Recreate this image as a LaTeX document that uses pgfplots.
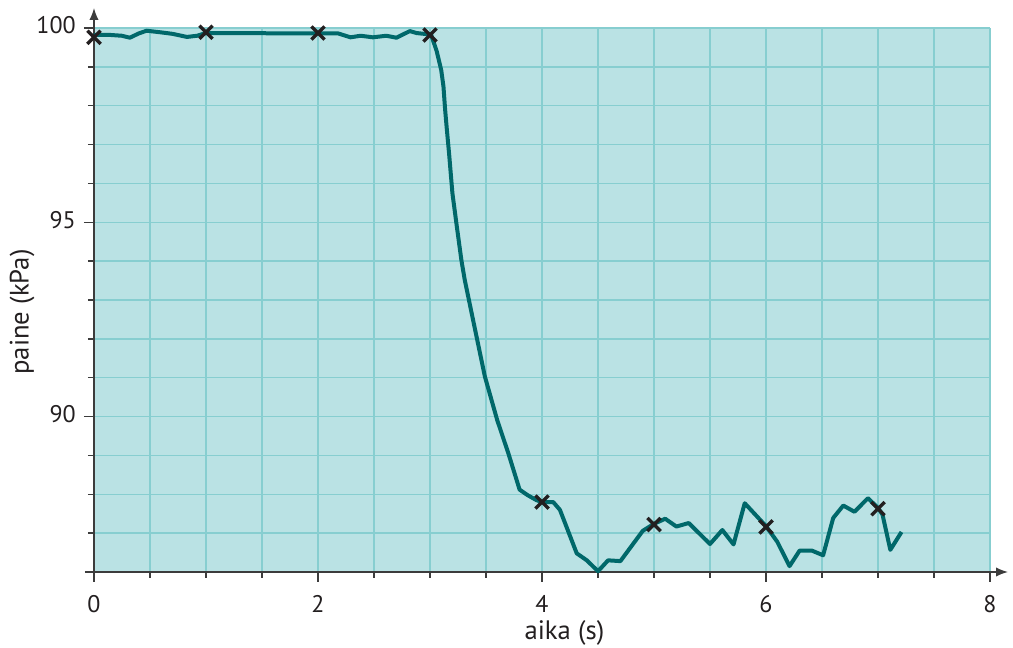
\documentclass[border=0pt]{standalone}
\usepackage{fontspec}
\setmainfont{PT Sans}
\usepackage{pgfplots}
\pgfplotsset{compat=1.18}
\usetikzlibrary{arrows.meta}
\definecolor{bgcol}{RGB}{186,226,228}
\definecolor{gridcol}{RGB}{135,206,208}
\definecolor{linecol}{RGB}{0,104,106}
\definecolor{axiscol}{RGB}{60,60,60}
\definecolor{textcol}{RGB}{35,31,32}
\begin{document}
\begin{tikzpicture}[font=\fontsize{18}{22}\selectfont]
\begin{axis}[name=ax, scale only axis, width=672pt, height=408pt,
  xmin=0, xmax=8, ymin=86, ymax=100,
  axis lines*=left,
  axis background/.style={fill=bgcol},
  axis line style={draw=axiscol, line width=1.1pt},
  x axis line style={-{Latex[length=9pt,width=7pt]}, shorten >=-13.5pt, shorten <=-6.75pt},
  y axis line style={-{Latex[length=9pt,width=7pt]}, shorten >=-15pt},
  xtick={0,2,4,6,8},
  minor xtick={0.5,1,1.5,2.5,3,3.5,4.5,5,5.5,6.5,7,7.5},
  ytick={90,95,100},
  minor ytick={87,88,89,91,92,93,94,96,97,98,99},
  grid=both,
  major grid style={draw=gridcol, line width=1pt},
  minor grid style={draw=gridcol, line width=1pt},
  tick align=outside,
  major tick length=7.5pt, minor tick length=4.5pt,
  tick style={draw=axiscol, line width=1pt},
  /pgf/number format/assume math mode=true,
  tick label style={font=\fontsize{18}{22}\selectfont, text=textcol, inner sep=0pt},
  xticklabel style={anchor=north, yshift=-10pt},
  yticklabel style={anchor=east, xshift=-6pt, yshift=2pt},
  label style={font=\fontsize{20}{24}\selectfont, text=textcol},
  xlabel={aika (s)},
  ylabel={paine (kPa)},
  xlabel style={at={(axis description cs:0.525,-0.1127)}, anchor=center},
  ylabel style={at={(axis description cs:-0.0804,0.478)}, anchor=center},
  clip=false,
]
\addplot[color=linecol, line width=3pt, line join=round, no marks] coordinates {
(0.00,99.82) (0.15,99.82) (0.25,99.80) (0.32,99.75) (0.40,99.86) (0.47,99.93)
(0.59,99.89) (0.70,99.85) (0.83,99.77) (0.92,99.80) (1.00,99.87)
(2.00,99.86) (2.18,99.86) (2.29,99.76) (2.38,99.80) (2.49,99.76) (2.61,99.80)
(2.70,99.75) (2.82,99.92) (2.88,99.87) (3.01,99.83)
(3.06,99.40) (3.10,98.92) (3.12,98.50) (3.135,97.90) (3.15,97.40) (3.17,96.78) (3.20,95.75)
(3.24,94.88) (3.28,94.03) (3.31,93.52) (3.39,92.41) (3.49,91.03) (3.60,89.91)
(3.70,89.05) (3.80,88.12) (3.87,87.98) (3.95,87.85) (4.00,87.80) (4.10,87.80)
(4.16,87.60) (4.31,86.48) (4.40,86.30) (4.50,86.02) (4.59,86.30) (4.70,86.28)
(4.90,87.06) (5.00,87.24) (5.10,87.37) (5.20,87.17) (5.31,87.26) (5.50,86.72)
(5.61,87.08) (5.71,86.71) (5.81,87.77) (6.00,87.18) (6.10,86.78) (6.21,86.15)
(6.30,86.55) (6.41,86.55) (6.51,86.43) (6.60,87.39) (6.69,87.71) (6.79,87.55)
(6.91,87.90) (7.00,87.65) (7.04,87.48) (7.11,86.57) (7.21,87.03)
};
\addplot[only marks, mark=x, mark size=7pt, mark options={draw=textcol, line width=2.5pt}] coordinates {
(0,99.76) (1,99.89) (2,99.87) (3,99.82) (4,87.80) (5,87.22) (6,87.16) (7,87.63)
};
\end{axis}
\pgfresetboundingbox
\path ([xshift=-70.5pt,yshift=-57pt]ax.south west) rectangle ([xshift=17.25pt,yshift=21pt]ax.north east);
\end{tikzpicture}
\end{document}
